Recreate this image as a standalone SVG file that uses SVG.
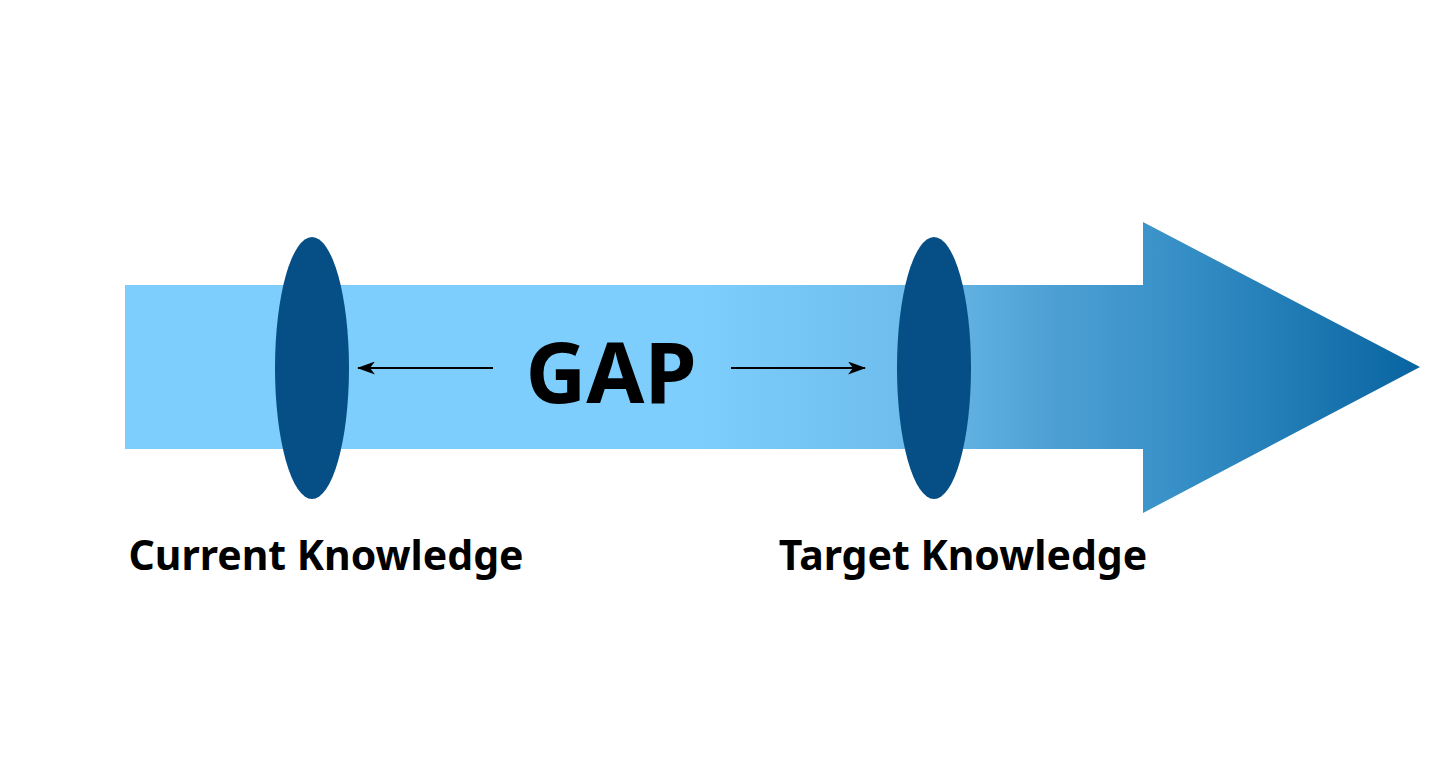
<svg xmlns="http://www.w3.org/2000/svg" width="1456" height="771" viewBox="0 0 1456 771">
<style>
.lens{fill:#054F86}
.lbl{font-family:"Noto Sans","Open Sans","Liberation Sans",sans-serif;font-weight:bold;fill:#000}
.conn{stroke:#000;stroke-width:2;fill:none}
</style>
<defs>
<linearGradient id="g" gradientUnits="userSpaceOnUse" x1="125" y1="0" x2="1420" y2="0">
<stop offset="0" stop-color="#7ECEFD"/>
<stop offset="0.44" stop-color="#7ECEFD"/>
<stop offset="0.6" stop-color="#6EBDEC"/>
<stop offset="0.72" stop-color="#4C9FD3"/>
<stop offset="0.8" stop-color="#3A92C9"/>
<stop offset="1" stop-color="#0864A0"/>
</linearGradient>
<marker id="ah" viewBox="0 0 18 13" refX="17" refY="6.5" markerWidth="18" markerHeight="13" markerUnits="userSpaceOnUse" orient="auto-start-reverse">
<path d="M0,0 L18,6.5 L0,13 L5,6.5 Z" fill="#000"/>
</marker>
</defs>
<rect width="1456" height="771" fill="#fff"/>
<g id="timeline-arrow">
<path d="M125,285 H1143 V222 L1420,367 L1143,513 V449 H125 Z" fill="url(#g)"/>
</g>
<g id="current-knowledge">
<ellipse class="lens" cx="312" cy="368" rx="37" ry="131"/>
<text class="lbl" x="326" y="570" font-size="41" text-anchor="middle">Current Knowledge</text>
</g>
<g id="target-knowledge">
<ellipse class="lens" cx="934" cy="368" rx="37" ry="131"/>
<text class="lbl" x="963" y="570" font-size="41" text-anchor="middle">Target Knowledge</text>
</g>
<g id="gap">
<text class="lbl" x="611" y="403" font-size="84" text-anchor="middle">GAP</text>
</g>
<g id="connectors">
<line class="conn" x1="493" y1="368" x2="358" y2="368" marker-end="url(#ah)"/>
<line class="conn" x1="731" y1="368" x2="865" y2="368" marker-end="url(#ah)"/>
</g>
</svg>
